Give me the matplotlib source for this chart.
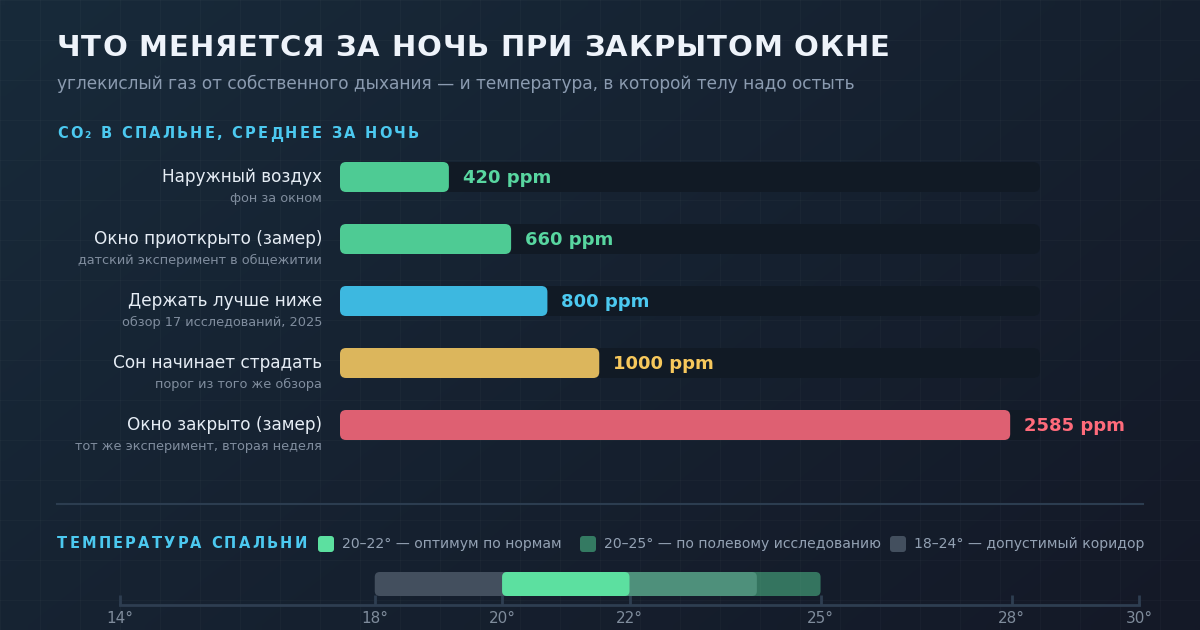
import matplotlib
matplotlib.use('Agg')
import matplotlib.pyplot as plt
from matplotlib.patches import FancyBboxPatch
import numpy as np

# --- data ---
co2_labels = ['Наружный воздух', 'Окно приоткрыто (замер)', 'Держать лучше ниже',
              'Сон начинает страдать', 'Окно закрыто (замер)']
co2_notes = ['фон за окном', 'датский эксперимент в общежитии', 'обзор 17 исследований, 2025',
             'порог из того же обзора', 'тот же эксперимент, вторая неделя']
co2_values = [420, 660, 800, 1000, 2585]
co2_max = 2700

temp_labels = ['18–24° — допустимый коридор', '20–25° — по полевому исследованию',
               '20–22° — оптимум по нормам']
temp_low = [18, 20, 20]
temp_high = [24, 25, 22]
temp_ticks = [14, 18, 20, 22, 25, 28, 30]

# --- styles ---
bar_colors = ['#4ecb94', '#4ecb94', '#3db8e0', '#dcb65c', '#de6072']
value_colors = ['#58d6a0', '#58d6a0', '#4cc9f0', '#f7c85c', '#ff6b7b']
temp_colors = ['#434f5e', '#5ce0a0', '#5ce0a0']
temp_alphas = [1.0, 0.45, 1.0]
swatch_colors = ['#5ce0a0', '#347a62', '#434f5e']
CYAN = '#4cc9f0'

W, H = 1200, 630
fig = plt.figure(figsize=(12, 6.3), dpi=100)
bg = fig.add_axes([0, 0, 1, 1])

# background gradient + grid
yy, xx = np.mgrid[0:1:64j, 0:1:120j]
t = xx * 0.6 + yy * 0.4
c0 = np.array([0x18, 0x2a, 0x3a]) / 255
c1 = np.array([0x14, 0x19, 0x27]) / 255
bg.imshow(c0 + (c1 - c0) * t[..., None], extent=(0, W, H, 0), aspect='auto',
          interpolation='bilinear', zorder=0)
for gx in range(0, W + 1, 40):
    bg.axvline(gx, color='white', alpha=0.025, lw=1, zorder=1)
for gy in range(0, H + 1, 40):
    bg.axhline(gy, color='white', alpha=0.025, lw=1, zorder=1)
bg.set_xlim(0, W)
bg.set_ylim(H, 0)
bg.axis('off')

renderer = fig.canvas.get_renderer()


def text_width(s, **kw):
    tt = bg.text(0, 0, s, **kw)
    w = tt.get_window_extent(renderer).width
    tt.remove()
    return w


def spaced_text(x, y, s, spacing, **kw):
    base = text_width('||', **kw)
    for ch in s:
        bg.text(x, y, ch, **kw)
        x += text_width('|' + ch + '|', **kw) - base + spacing
    return x


def rbar(ax, x0, x1, y0, h, r_px, px_x, px_y, color, alpha=1.0, z=3):
    p = FancyBboxPatch((x0, y0), x1 - x0, h,
                       boxstyle=f'round,pad=0,rounding_size={r_px * px_x}',
                       mutation_aspect=px_y / px_x, fc=color, ec='none',
                       alpha=alpha, zorder=z, clip_on=False)
    ax.add_patch(p)


# titles
spaced_text(57, 48, 'ЧТО МЕНЯЕТСЯ ЗА НОЧЬ ПРИ ЗАКРЫТОМ ОКНЕ', 0.85, fontsize=21,
            fontweight='bold', color='#eef3fa', va='center', ha='left', zorder=5)
bg.text(57, 84, 'углекислый газ от собственного дыхания — и температура, в которой телу надо остыть',
        fontsize=12.25, color='#8b9bb0', va='center', ha='left', zorder=5)
spaced_text(57, 134, 'CO₂ В СПАЛЬНЕ, СРЕДНЕЕ ЗА НОЧЬ', 2.2, fontsize=10.5, fontweight='bold',
            color=CYAN, va='center', ha='left', zorder=5)

# CO2 bars
ax = fig.add_axes([340 / W, 1 - 456 / H, 700 / W, 310 / H])
ax.set_xlim(0, co2_max)
ax.set_ylim(4.5, -0.5)
ax.axis('off')
ax.patch.set_alpha(0)
px_x = co2_max / 700
px_y = 1 / 62
bh = 30 * px_y
for i, (lab, note, v) in enumerate(zip(co2_labels, co2_notes, co2_values)):
    rbar(ax, 0, co2_max, i - bh / 2, bh, 7, px_x, px_y, '#111a25', z=2)
    rbar(ax, 0, v, i - bh / 2, bh, 6, px_x, px_y, bar_colors[i], z=3)
    ax.annotate(f'{v} ppm', xy=(v, i), xytext=(10, -4.0), textcoords='offset points',
                fontsize=13, fontweight='bold', color=value_colors[i],
                ha='left', va='baseline', annotation_clip=False)
    ax.annotate(lab, xy=(0, i), xytext=(-13, -3.8), textcoords='offset points',
                fontsize=12.2, color='#e6edf5', ha='right', va='baseline',
                annotation_clip=False)
    ax.annotate(note, xy=(0, i), xytext=(-13, -18), textcoords='offset points',
                fontsize=9.25, color='#808d9e', ha='right', va='baseline',
                annotation_clip=False)

# separator
bg.plot([57, 1143], [504, 504], color='#2c3d50', lw=1.5, zorder=4)

# temperature legend
spaced_text(57, 544, 'ТЕМПЕРАТУРА СПАЛЬНИ', 2.2, fontsize=10.5, fontweight='bold',
            color=CYAN, va='center', ha='left', zorder=5)
leg_x = [318, 580, 890]
leg_order = [2, 1, 0]
for sx, k, sc in zip(leg_x, leg_order, swatch_colors):
    bg.add_patch(FancyBboxPatch((sx, 536), 16, 16, boxstyle='round,pad=0,rounding_size=3',
                                fc=sc, ec='none', zorder=5))
    bg.text(sx + 24, 544, temp_labels[k], fontsize=10.1, color='#93a1b3',
            va='center', ha='left', zorder=5)

# temperature scale
tax = fig.add_axes([120 / W, 1 - 605 / H, 1019 / W, 45 / H])
tax.patch.set_alpha(0)
tax.set_xlim(temp_ticks[0], temp_ticks[-1])
tax.set_ylim(0, 45)
tpx_x = (temp_ticks[-1] - temp_ticks[0]) / 1019
for lo, hi, c, a in zip(temp_low, temp_high, temp_colors, temp_alphas):
    rbar(tax, lo, hi, 9, 24, 5, tpx_x, 1, c, alpha=a)
for s in ['top', 'left', 'right']:
    tax.spines[s].set_visible(False)
tax.spines['bottom'].set_color('#2e3e51')
tax.spines['bottom'].set_linewidth(2)
tax.set_yticks([])
tax.set_xticks(temp_ticks)
tax.set_xticklabels([f'{v}°' for v in temp_ticks])
tax.tick_params(axis='x', direction='in', length=7, width=2, color='#2e3e51',
                labelcolor='#7f8c9c', labelsize=11, pad=4.3)

fig.savefig('out.png', dpi=100)
